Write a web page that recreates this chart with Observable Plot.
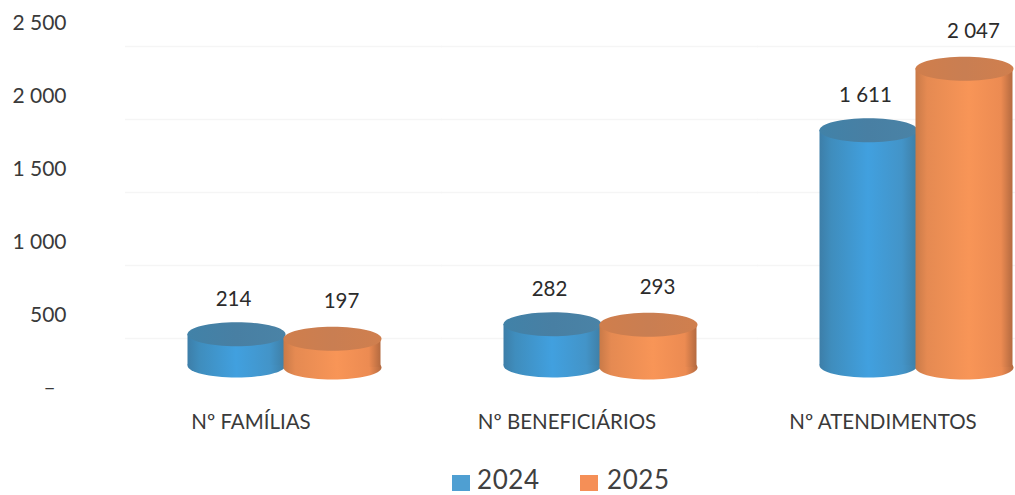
<!DOCTYPE html>
<html>
<head>
<meta charset="utf-8">
<script src="https://cdn.jsdelivr.net/npm/d3@7"></script>
<script src="https://cdn.jsdelivr.net/npm/@observablehq/plot@0.6"></script>
<style>
html,body{margin:0;padding:0;background:#fff;font-family:Lato,sans-serif;overflow:hidden}
#legend{position:relative;height:35px;color:#404040;font-size:26px;letter-spacing:0.6px;line-height:26px}
#legend span{position:absolute;top:6px}
#legend i{position:absolute;top:15px;width:18px;height:16px}
svg{overflow:visible;display:block}
</style>
</head>
<body>
<div id="chart"></div>
<div id="legend"></div>
<script>
const categories = ["Nº FAMÍLIAS", "Nº BENEFICIÁRIOS", "Nº ATENDIMENTOS"];
const years = ["2024", "2025"];
const values2024 = [214, 282, 1611];
const values2025 = [197, 293, 2047];
const yTicks = [0, 500, 1000, 1500, 2000, 2500];
const colors = {"2024": "#4f9fd2", "2025": "#f58f57"};

const seriesRows = {
  "2024": categories.map((c, i) => ({category: c, year: "2024", value: values2024[i]})),
  "2025": categories.map((c, i) => ({category: c, year: "2025", value: values2025[i]}))
};
const seriesStyle = {
  "2024": {dy: -23, labelDx: -3, body: "url(#body2024)", top: "url(#top2024)"},
  "2025": {dy: -21, labelDx: 9, body: "url(#body2025)", top: "url(#top2025)"}
};

const ellipse = {
  draw(ctx) {
    const rx = 49, ry = 12, k = 0.5523;
    ctx.moveTo(-rx, 0);
    ctx.bezierCurveTo(-rx, -ry * k, -rx * k, -ry, 0, -ry);
    ctx.bezierCurveTo(rx * k, -ry, rx, -ry * k, rx, 0);
    ctx.bezierCurveTo(rx, ry * k, rx * k, ry, 0, ry);
    ctx.bezierCurveTo(-rx * k, ry, -rx, ry * k, -rx, 0);
    ctx.closePath();
  }
};

const fmt = d => d === 0 ? "–\u00a0\u00a0" : d3.format(",")(d).replace(",", " ");

const seriesMarks = years.flatMap(y => {
  const rows = seriesRows[y], s = seriesStyle[y];
  return [
    Plot.dot(rows, {x: "year", fx: "category", y: () => 0, symbol: ellipse, fill: s.body, stroke: null, dy: s.dy}),
    Plot.barY(rows, {x: "year", fx: "category", y: "value", fill: s.body, dy: s.dy, insetLeft: -0.5, insetRight: -0.5}),
    Plot.dot(rows, {x: "year", fx: "category", y: "value", symbol: ellipse, fill: s.top, stroke: null, dy: s.dy})
  ];
});
const labelMarks = years.map(y => Plot.text(seriesRows[y], {
  x: "year", fx: "category", y: "value", text: d => fmt(d.value),
  dy: -58, dx: seriesStyle[y].labelDx, fontSize: 20.5, fill: "#2b2b2b"
}));

const plot = Plot.plot({
  width: 1015,
  height: 460,
  marginTop: 23,
  marginBottom: 72,
  marginLeft: 186,
  marginRight: 1,
  style: {fontFamily: "Lato, sans-serif", background: "transparent"},
  y: {domain: [0, 2500], axis: null},
  x: {domain: years, padding: 0, axis: null},
  fx: {domain: categories, paddingInner: 0.388, paddingOuter: 0, label: null, axis: null},
  marks: [
    Plot.ruleY(yTicks.slice(1), {stroke: "#f5f5f5", strokeWidth: 1.5, dy: 23, insetLeft: -62, insetRight: -62}),
    Plot.axisY({ticks: yTicks, tickFormat: fmt, tickSize: 0, tickPadding: 121, label: null, fontSize: 21, color: "#3a3a3a"}),
    Plot.axisFx({domain: categories, anchor: "bottom", tickSize: 0, tickPadding: 26, label: null, fontSize: 20.5, color: "#3a3a3a", dx: -33}),
    ...seriesMarks,
    ...labelMarks
  ]
});

const ns = "http://www.w3.org/2000/svg";
const defs = document.createElementNS(ns, "defs");
function gradient(id, stops) {
  const g = document.createElementNS(ns, "linearGradient");
  g.setAttribute("id", id);
  stops.forEach(([o, c]) => {
    const s = document.createElementNS(ns, "stop");
    s.setAttribute("offset", o);
    s.setAttribute("stop-color", c);
    g.appendChild(s);
  });
  defs.appendChild(g);
}
gradient("body2024", [[0, "#3d7ea8"], [0.12, "#3f8dbd"], [0.5, "#41a0df"], [0.85, "#4394c8"], [1, "#3f7fa6"]]);
gradient("top2024", [[0, "#4182a8"], [0.5, "#487fa3"], [1, "#4a83a6"]]);
gradient("body2025", [[0, "#c97a48"], [0.12, "#e58a52"], [0.55, "#f89557"], [0.88, "#ec8b52"], [1, "#b46a40"]]);
gradient("top2025", [[0, "#d07e4c"], [0.5, "#c97e52"], [1, "#d07f4e"]]);
plot.insertBefore(defs, plot.firstChild);
document.getElementById("chart").appendChild(plot);

const legend = document.getElementById("legend");
const legendX = {"2024": [452, 477], "2025": [580, 607]};
years.forEach(y => {
  const sw = document.createElement("i");
  sw.style.left = legendX[y][0] + "px";
  sw.style.background = colors[y];
  const t = document.createElement("span");
  t.style.left = legendX[y][1] + "px";
  t.textContent = y;
  legend.append(sw, t);
});
</script>
</body>
</html>
